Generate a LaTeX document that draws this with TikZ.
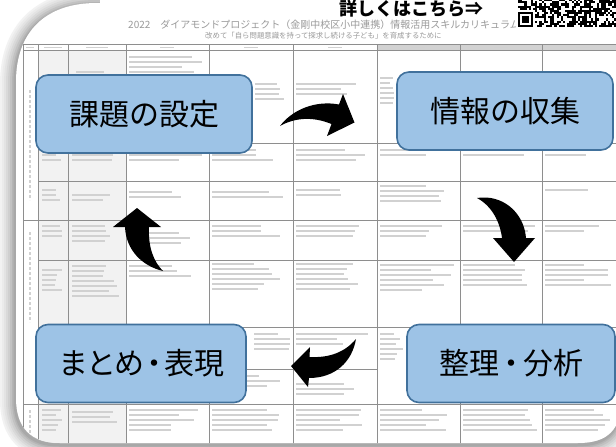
\documentclass[tikz,border=0pt]{standalone}
\usepackage{fontspec}
\newfontfamily\jp{Noto Sans CJK JP}
\definecolor{boxfill}{HTML}{9DC3E6}
\definecolor{boxline}{HTML}{41719C}
\definecolor{gridc}{HTML}{8E8E8E}
\definecolor{hdrfill}{HTML}{D2D2D2}
\definecolor{colfill}{HTML}{F2F2F2}
\definecolor{ttl}{HTML}{9A9A9A}
\newcommand\celltxt[4]{%
  \foreach \k in {1,...,#3}{%
    \pgfmathsetmacro\len{#4*(0.55+0.45*rnd)}%
    \draw[txtline] (#1,{#2+5*(\k-1)}) -- ++(\len,0);}}
\def\framepath{(16,82) .. controls (16,32) and (45,3) .. (97,3) -- (622,3) -- (622,398) .. controls (621,430) and (608,443) .. (578,443) -- (60,443) .. controls (31,443) and (16,428) .. (16,398) -- cycle}
\begin{document}
\begin{tikzpicture}[x=1pt,y=-1pt,
  stage/.style={draw=boxline, line width=1.6pt, fill=boxfill, rounded corners=12pt,
    inner sep=0pt, minimum height=78pt, text=black, font=\jp\fontsize{30}{36}\selectfont},
  txtline/.style={draw=gray!36, line width=1.1pt},
  gridline/.style={draw=gridc, line width=0.7pt},
  bigarrow/.style={fill=black}]
\useasboundingbox (0,0) rectangle (616,447);
\fill[white] (0,0) rectangle (616,447);
\pgfmathsetseed{11}
% soft shadow, solid graded strokes
\begin{scope}[xshift=-1pt, yshift=-2pt]
\foreach \w/\c in {30/5,26/8,22/11,18/15,14/19,10/24,6/29,3/34}{
  \draw[draw=black!\c, line width=\w pt, line join=round] \framepath;}
\end{scope}
\fill[white] (100,-10) rectangle (616,3);
\fill[white] \framepath;
\begin{scope}
\clip \framepath;
% fills
\fill[colfill] (38,50) rectangle (126,443);
\fill[hdrfill] (377,44) rectangle (625,50);
% header tiny texts
\foreach \cx/\w in {30/8,53/18,97/22,167/14,251/14,335/14,418/14,501/14,583/14}{
  \draw[txtline, line width=0.9pt] ({\cx-\w/2},47) -- ({\cx+\w/2},47);}
% cell text textures
\celltxt{129}{57}{5}{75}
\celltxt{76}{72}{1}{34}
\celltxt{255}{84}{4}{35}
\celltxt{296}{84}{3}{72}
\celltxt{380}{78}{6}{15}
\celltxt{42}{150}{3}{22}\celltxt{72}{150}{3}{50}\celltxt{129}{150}{3}{75}
\celltxt{212}{150}{3}{75}\celltxt{296}{150}{3}{75}\celltxt{380}{150}{2}{75}
\celltxt{463}{150}{2}{75}\celltxt{545}{150}{2}{70}
\celltxt{42}{190}{3}{22}\celltxt{72}{195}{2}{50}\celltxt{129}{192}{2}{75}
\celltxt{212}{192}{2}{75}\celltxt{296}{190}{2}{75}\celltxt{380}{186}{4}{75}
\celltxt{545}{190}{1}{50}
\celltxt{42}{226}{3}{22}\celltxt{72}{226}{4}{50}\celltxt{129}{233}{3}{75}
\celltxt{212}{226}{3}{75}\celltxt{296}{226}{3}{75}\celltxt{380}{226}{3}{75}
\celltxt{463}{226}{2}{75}\celltxt{545}{226}{2}{70}
\celltxt{42}{270}{5}{22}\celltxt{72}{266}{7}{50}\celltxt{129}{266}{3}{75}
\celltxt{212}{264}{6}{75}\celltxt{296}{264}{6}{75}\celltxt{380}{265}{6}{75}
\celltxt{463}{265}{5}{75}\celltxt{545}{265}{5}{70}
\celltxt{42}{335}{6}{22}\celltxt{254}{334}{4}{36}\celltxt{296}{334}{3}{75}
\celltxt{380}{334}{6}{24}\celltxt{212}{376}{3}{75}\celltxt{296}{384}{3}{75}
\celltxt{42}{410}{5}{22}\celltxt{72}{412}{3}{50}\celltxt{129}{410}{5}{75}
\celltxt{212}{410}{5}{75}\celltxt{296}{410}{5}{75}\celltxt{380}{410}{5}{75}
\celltxt{463}{410}{5}{75}\celltxt{545}{410}{5}{70}
\draw[txtline, line width=1.2pt, dash pattern=on 3pt off 2pt] (30,90) -- (30,200);
\draw[txtline, line width=1.2pt, dash pattern=on 3pt off 2pt] (30,232) -- (30,322);
\draw[txtline, line width=1.2pt, dash pattern=on 3pt off 2pt] (30,410) -- (30,440);
% grid
\foreach \x in {23,38,68,126,209,293,377,460,542}{\draw[gridline] (\x,44) -- (\x,450);}
\draw[gridline] (23,44) -- (625,44);
\draw[gridline] (23,50) -- (625,50);
\draw[gridline] (38,143) -- (625,143);
\draw[gridline] (38,181) -- (625,181);
\draw[gridline] (23,220) -- (625,220);
\draw[gridline] (38,260) -- (625,260);
\draw[gridline] (38,327) -- (625,327);
\draw[gridline] (209,369) -- (377,369);
\draw[gridline] (23,404) -- (625,404);
% titles
\node[anchor=base west, inner sep=0pt, text=ttl, font=\jp\fontsize{10}{12}\selectfont] (title) at (128,28)
  {2022　ダイアモンドプロジェクト（金剛中校区小中連携）情報活用スキルカリキュラム};
\node[anchor=base west, inner sep=0pt, text=ttl, font=\jp\fontsize{7.4}{9}\selectfont] (subtitle) at (205,38.5)
  {改めて「自ら問題意識を持って探求し続ける子ども」を育成するために};
\end{scope}
% link text
\node[anchor=base west, inner sep=0pt, text=black, font=\jp\bfseries\fontsize{18}{22}\selectfont] (link) at (339,15)
  {詳しくはこちら⇒};
% QR code
\fill[white] (516,-2) rectangle (616,29);
\foreach \i in {0,...,45}{\foreach \r in {0,...,12}{%
  \pgfmathtruncatemacro\qs{and(\i<8,\r<8)}%
  \pgfmathtruncatemacro\qb{rnd>0.4}%
  \ifnum\qs=0 \ifnum\qb=1 \fill[black] ({518+\i*2.14},{27-\r*2.14}) rectangle ++(2.2,-2.2); \fi\fi}}
\fill[black] (518,12) rectangle (533,27);
\fill[white] (520.14,14.14) rectangle (530.86,24.86);
\fill[black] (522.28,16.28) rectangle (528.72,22.72);
% stage boxes
\node[stage, minimum width=216pt] (kadai) at (144,114) {課題の設定};
\node[stage, minimum width=216pt] (joho) at (505,111) {情報の収集};
\node[stage, minimum width=210pt] (matome) at (141,363.5) {ま\kern-2ptと\kern-2ptめ\kern-5pt・\kern-5pt表現};
\node[stage, minimum width=208pt] (seiri) at (511,363.5) {整理\kern-3pt・\kern-3pt分析};
% curved arrows
\fill[bigarrow] (280,126) .. controls (292,110) and (315,100) .. (339,104.5)
  -- (343,94) -- (354.5,122.5) -- (327,136) -- (331.5,124)
  .. controls (312,116) and (294,118) .. cycle;
\fill[bigarrow] (477,198) .. controls (502,194) and (524,212) .. (526,238)
  -- (535,238) -- (514,262) -- (493,238) -- (502,238)
  .. controls (500,222) and (492,206) .. cycle;
\fill[bigarrow] (356,339) .. controls (345,352) and (330,358) .. (309.5,357)
  -- (310,347) -- (291,366) -- (308,387) -- (309,378)
  .. controls (335,378) and (352,362) .. cycle;
\fill[bigarrow] (163,271) .. controls (154,262) and (148,248) .. (149,227)
  -- (161,227) -- (137,208) -- (113,227) -- (125,227)
  .. controls (126,250) and (142,266) .. cycle;
\end{tikzpicture}
\end{document}
